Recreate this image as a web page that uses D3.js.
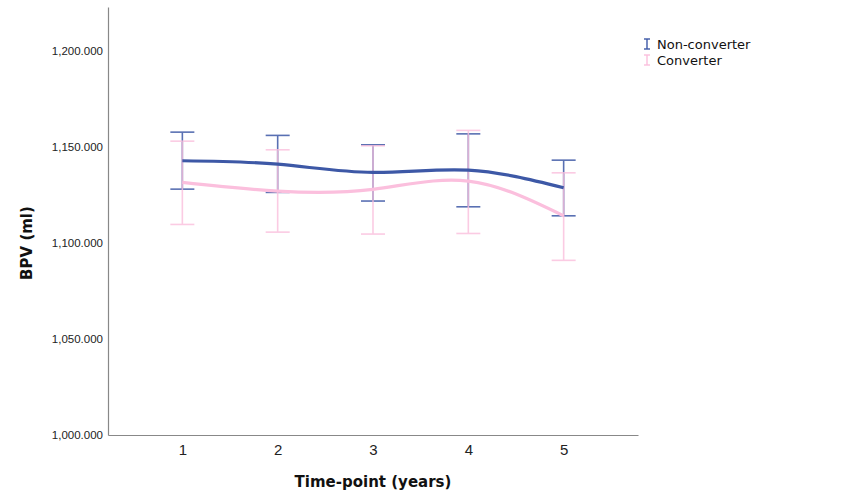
<!DOCTYPE html>
<html><head><meta charset="utf-8">
<script src="https://cdn.jsdelivr.net/npm/d3@7"></script>
<style>body{margin:0;background:#fff}svg{display:block;font-family:"DejaVu Sans",sans-serif}</style>
</head><body><svg id="c" width="854" height="504"></svg>
<script>
const timepoints = [1, 2, 3, 4, 5];
const seriesNames = ["Non-converter", "Converter"];
const nonConverterMean = [1142.9, 1141.1, 1136.8, 1138.0, 1128.8];
const nonConverterLow  = [1128.1, 1126.4, 1121.9, 1118.9, 1114.2];
const nonConverterHigh = [1157.8, 1156.1, 1151.2, 1156.9, 1143.2];
const converterMean = [1131.6, 1127.1, 1128.0, 1132.3, 1114.2];
const converterLow  = [1109.7, 1105.7, 1104.7, 1105.0, 1091.0];
const converterHigh = [1153.1, 1148.6, 1150.7, 1158.7, 1136.6];
const yTicks = [1000, 1050, 1100, 1150, 1200];
const colors = ["#3d58a6", "#fbbfdd"];

const svg = d3.select("#c");
const mLeft = 108, mRight = 638, mTop = 7, mBottom = 435;
const x = d3.scalePoint().domain(timepoints).range([mLeft, mRight]).padding(0.78);
const y = d3.scaleLinear().domain([1000, 1223]).range([mBottom, mTop]);
const fmt = d3.format(",.3f");

// axes
const ya = svg.append("g").attr("transform", `translate(${mLeft},0)`)
  .call(d3.axisLeft(y).tickValues(yTicks).tickSize(0).tickPadding(5).tickFormat(fmt));
ya.select(".domain").attr("stroke", "#888").attr("stroke-width", 1.2);
ya.selectAll("text").attr("font-size", 11.5).attr("fill", "#222");
const xa = svg.append("g").attr("transform", `translate(0,${mBottom})`)
  .call(d3.axisBottom(x).tickSize(0).tickPadding(9));
xa.select(".domain").attr("stroke", "#888").attr("stroke-width", 1.2);
xa.selectAll("text").attr("font-size", 15).attr("fill", "#222");

svg.append("text").attr("x", 373).attr("y", 487).attr("text-anchor", "middle")
  .attr("font-size", 15).attr("font-weight", "bold").attr("fill", "#111").text("Time-point (years)");
svg.append("text").attr("transform", "translate(32,243) rotate(-90)").attr("text-anchor", "middle")
  .attr("font-size", 15).attr("font-weight", "bold").attr("fill", "#111").text("BPV (ml)");

const series = [
  {mean: nonConverterMean, lo: nonConverterLow, hi: nonConverterHigh, color: colors[0], op: 0.85},
  {mean: converterMean, lo: converterLow, hi: converterHigh, color: colors[1], op: 0.8}
];
const line = d3.line().x((d, i) => x(timepoints[i])).y(d => y(d)).curve(d3.curveNatural);

// error bars
series.forEach(s => {
  const g = svg.append("g").attr("stroke", s.color).attr("stroke-width", 1.6).attr("opacity", s.op);
  timepoints.forEach((t, i) => {
    const cx = x(t);
    g.append("line").attr("x1", cx).attr("x2", cx).attr("y1", y(s.lo[i])).attr("y2", y(s.hi[i]));
    g.append("line").attr("x1", cx - 12).attr("x2", cx + 12).attr("y1", y(s.lo[i])).attr("y2", y(s.lo[i]));
    g.append("line").attr("x1", cx - 12).attr("x2", cx + 12).attr("y1", y(s.hi[i])).attr("y2", y(s.hi[i]));
  });
});
// lines
series.forEach(s => {
  svg.append("path").datum(s.mean).attr("d", line).attr("fill", "none")
    .attr("stroke", s.color).attr("stroke-width", 3.2);
});

// legend
seriesNames.forEach((n, i) => {
  const ly = 44 + i * 16;
  const g = svg.append("g").attr("stroke", colors[i]).attr("stroke-width", 1.4);
  g.append("line").attr("x1", 647).attr("x2", 647).attr("y1", ly - 5).attr("y2", ly + 5);
  g.append("line").attr("x1", 644).attr("x2", 650).attr("y1", ly - 5).attr("y2", ly - 5);
  g.append("line").attr("x1", 644).attr("x2", 650).attr("y1", ly + 5).attr("y2", ly + 5);
  svg.append("text").attr("x", 657).attr("y", ly + 5).attr("font-size", 13).attr("fill", "#111").text(n);
});
</script></body></html>
